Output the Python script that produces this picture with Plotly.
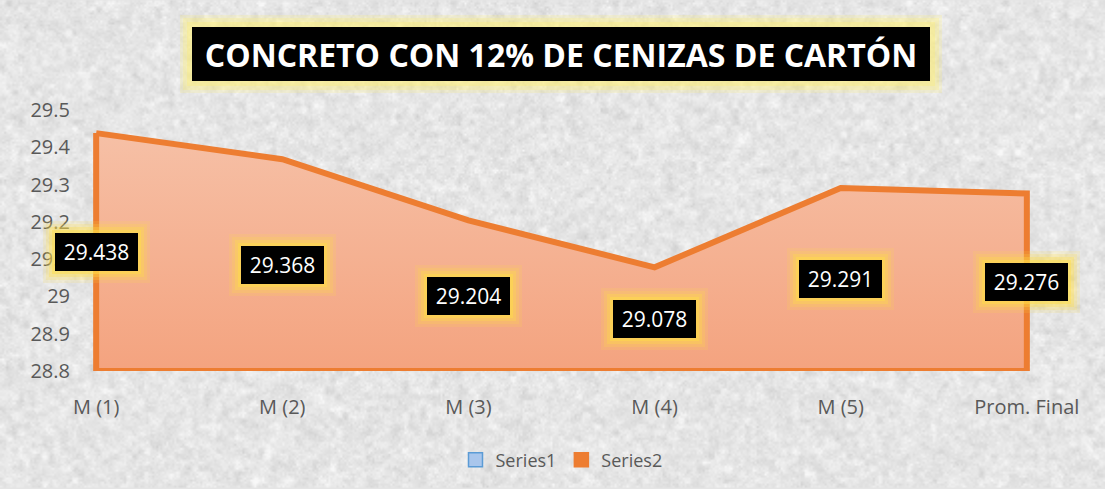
import base64
import struct
import zlib

import numpy as np
import plotly.graph_objects as go

# ---- data -------------------------------------------------------------
categories = ["M (1)", "M (2)", "M (3)", "M (4)", "M (5)", "Prom. Final"]
series2 = [29.438, 29.368, 29.204, 29.078, 29.291, 29.276]
y_ticks = [28.8, 28.9, 29.0, 29.1, 29.2, 29.3, 29.4, 29.5]
y_tick_text = ["28.8", "28.9", "29", "29.1", "29.2", "29.3", "29.4", "29.5"]
legend_names = ["Series1", "Series2"]
title_text = "CONCRETO CON 12% DE CENIZAS DE CARTÓN"

ORANGE = "#ED7D31"
GREY_TXT = "#595959"
FONT = "Open Sans"


# ---- granite-like paper texture (small grayscale PNG, stretched) -------
def granite_png(w, h, seed=11):
    rng = np.random.default_rng(seed)
    fine = rng.normal(0, 1, (h, w))
    coarse = rng.normal(0, 1, (h // 3 + 2, w // 3 + 2))
    coarse = np.kron(coarse, np.ones((3, 3)))[:h, :w]
    k = np.array([0.25, 0.5, 0.25])
    for axis in (0, 1):
        coarse = np.apply_along_axis(lambda r: np.convolve(r, k, mode="same"), axis, coarse)
    img = 230 + 4 * fine + 6 * coarse
    img = np.clip(img, 204, 248).astype(np.uint8)
    raw = b"".join(b"\x00" + row.tobytes() for row in img)

    def chunk(tag, data):
        c = struct.pack(">I", len(data)) + tag + data
        return c + struct.pack(">I", zlib.crc32(tag + data) & 0xFFFFFFFF)

    png = b"\x89PNG\r\n\x1a\n"
    png += chunk(b"IHDR", struct.pack(">IIBBBBB", w, h, 8, 0, 0, 0, 0))
    png += chunk(b"IDAT", zlib.compress(raw, 9))
    png += chunk(b"IEND", b"")
    return "data:image/png;base64," + base64.b64encode(png).decode()


texture = granite_png(552, 245)

# ---- area polygon closed down to the axis floor ------------------------
base = y_ticks[0]
idx = list(range(len(categories)))
poly_x = idx + [idx[-1], idx[0], idx[0]]
poly_y = series2 + [base, base, series2[0]]

fig = go.Figure()
fig.add_trace(go.Scatter(
    x=poly_x, y=poly_y, mode="lines", fill="toself",
    line=dict(color=ORANGE, width=6),
    fillgradient=dict(type="vertical",
                      colorscale=[[0, "#F4A37F"], [1, "#F6C0A6"]]),
    hoverinfo="skip", showlegend=False,
))

# legend entries
fig.add_trace(go.Scatter(
    x=[None], y=[None], mode="markers", name=legend_names[0],
    marker=dict(symbol="square", size=14, color="#A9C6EC",
                line=dict(color="#5B9BD5", width=1.5)),
))
fig.add_trace(go.Scatter(
    x=[None], y=[None], mode="markers", name=legend_names[1],
    marker=dict(symbol="square", size=14, color=ORANGE,
                line=dict(color=ORANGE, width=1.5)),
))

# soft glow: stacked translucent boxes behind a solid black box
LABEL_GLOW = [(12, 0.15), (9, 0.2), (6, 0.3), (3, 0.45)]
TITLE_GLOW = [(12, 0.2), (9, 0.25), (5, 0.3)]


def glow_box(xa, ya, w, h, xref, yref, rgb, layers):
    out = []
    for pad, a in layers:
        out.append(dict(
            x=xa, y=ya, xref=xref, yref=yref, text=" ", showarrow=False,
            xanchor="center", yanchor="middle",
            width=w + 2 * pad, height=h + 2 * pad, borderpad=0, borderwidth=0,
            bgcolor=f"rgba({rgb},{a})", font=dict(size=4),
        ))
    return out


annotations = []

# data labels centred between the value and the axis floor
for i, v in zip(idx, series2):
    ymid = (v + base) / 2
    annotations += glow_box(i, ymid, 83, 38, "x", "y", "255,222,70", LABEL_GLOW)
    annotations.append(dict(
        x=i, y=ymid, xref="x", yref="y", text=f"{v:.3f}", showarrow=False,
        xanchor="center", yanchor="middle",
        width=83, height=38, borderpad=0, borderwidth=0, bgcolor="black",
        font=dict(family=FONT, size=21, color="white"),
    ))

# title block
TX, TY = 0.4995, 1.2137
annotations += glow_box(TX, TY, 738, 54, "paper", "paper", "255,240,110", TITLE_GLOW)
annotations.append(dict(
    x=TX, y=TY, xref="paper", yref="paper", text=f"<b>{title_text}</b>",
    showarrow=False, xanchor="center", yanchor="middle",
    width=738, height=54, borderpad=0, borderwidth=0, bgcolor="black",
    font=dict(family=FONT, size=32, color="white"),
))

fig.update_layout(
    width=1105, height=489,
    margin=dict(l=93, r=75, t=110, b=117),
    paper_bgcolor="#E5E5E5",
    plot_bgcolor="white",
    images=[dict(source=texture, xref="paper", yref="paper",
                 x=-93 / 937, y=1 + 110 / 262, sizex=1105 / 937,
                 sizey=489 / 262, sizing="stretch", layer="below",
                 xanchor="left", yanchor="top")],
    xaxis=dict(
        range=[-0.017, 5.017], tickvals=idx, ticktext=categories,
        showgrid=False, zeroline=False, showline=False,
        ticks="", ticklabelstandoff=22,
        tickfont=dict(family=FONT, size=20, color=GREY_TXT),
    ),
    yaxis=dict(
        range=[y_ticks[0], y_ticks[-1]], tickvals=y_ticks, ticktext=y_tick_text,
        showgrid=False, zeroline=False, showline=False,
        ticks="", ticklabelstandoff=22,
        tickfont=dict(family=FONT, size=20, color=GREY_TXT),
    ),
    showlegend=True,
    legend=dict(orientation="h", x=0.5, xanchor="center", y=-0.336,
                yanchor="middle", bgcolor="rgba(0,0,0,0)",
                font=dict(family=FONT, size=18, color=GREY_TXT),
                itemwidth=30, tracegroupgap=0),
    annotations=annotations,
)

fig.write_html("out.html")
